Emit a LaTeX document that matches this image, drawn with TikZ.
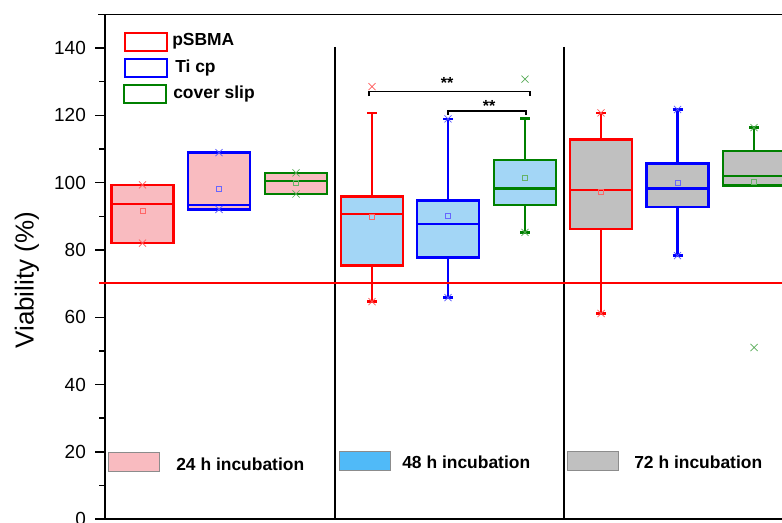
\documentclass[tikz,border=0pt]{standalone}
\usepackage{fontspec}
\setmainfont{Liberation Sans}
\usetikzlibrary{positioning}

\definecolor{pinkfill}{RGB}{249,187,192}
\definecolor{bluefill}{RGB}{163,214,246}
\definecolor{bluekey}{RGB}{80,186,248}
\definecolor{grayfill}{RGB}{192,192,192}
\definecolor{darkgreen}{RGB}{0,128,0}

\tikzset{
  boxline/.style={line width=1.8pt},
  limitline/.style={draw=red, line width=1.8pt},
  ticklabel/.style={font=\fontsize{13.5}{16}\selectfont, anchor=east, inner sep=0pt},
  legendtext/.style={font=\bfseries\fontsize{12.4}{14}\selectfont, anchor=west, inner sep=0pt},
  samplekey/.style={draw, line width=1.6pt, minimum width=29.9pt, minimum height=12.8pt, inner sep=0pt},
  timekey/.style={draw=black!45, line width=0.4pt, minimum width=36.3pt, minimum height=13.5pt, inner sep=0pt},
  stars/.style={font=\bfseries\fontsize{11.4}{13}\selectfont, inner sep=0pt}
}

% center, colour, fill, low whisker, q1, median, q3, high whisker, mean
\newcommand{\drawbox}[9]{%
  \draw[#2, boxline] (#1,#4) -- (#1,#5) (#1,#7) -- (#1,#8);
  \draw[#2, boxline] (#1-5,#4) -- (#1+5,#4) (#1-5,#8) -- (#1+5,#8);
  \draw[#2, boxline, fill=#3] (#1-31,#5) rectangle (#1+31,#7);
  \draw[#2, boxline] (#1-31,#6) -- (#1+31,#6);
  \draw[#2!60, line width=0.5pt] (#1,#9) +(-1.8pt,-1.8pt) rectangle +(1.8pt,1.8pt);}

% x marker: x, value, colour
\newcommand{\outlier}[3]{%
  \draw[#3!65, line width=0.5pt] (#1,#2) +(-2.5pt,-2.5pt) -- +(2.5pt,2.5pt) +(-2.5pt,2.5pt) -- +(2.5pt,-2.5pt);}

\begin{document}
\begin{tikzpicture}[x=0.025cm, y=0.08413cm]
    \useasboundingbox (0,-0.892) rectangle (782,154.23);
    \clip (0,-0.892) rectangle (782,154.23);

    % Ejes
    \draw[line width=1.2pt] (105,150) -- (105,0) -- (782,0);
    \draw[line width=1pt] (98,150) -- (782,150);
    \foreach \v in {0,20,...,140}
      \draw[line width=1pt] (105,\v) -- (95,\v) node[ticklabel, xshift=-6pt] (tick\v) {\v};
    \foreach \v in {10,30,50,90,110,130}
      \draw[line width=1pt] (105,\v) -- (99,\v);
    \node[rotate=90, font=\fontsize{18.5}{21}\selectfont] (ylabel) at (27,71) {Viability (\%)};

    % Separadores
    \draw[line width=1.3pt] (335,140.3) -- (335,0);
    \draw[line width=1.3pt] (564,140.3) -- (564,0);

    % 24 h
    \drawbox{142.5}{red}{pinkfill}{82}{82}{93.6}{99.3}{99.3}{91.5}
    \drawbox{219}{blue}{pinkfill}{92}{92}{93.3}{108.9}{108.9}{98}
    \drawbox{296}{darkgreen}{pinkfill}{96.6}{96.6}{100.4}{102.9}{102.9}{99.8}
    \outlier{142.5}{99.3}{red} \outlier{142.5}{82}{red}
    \outlier{219}{108.9}{blue} \outlier{219}{92}{blue}
    \outlier{296}{102.9}{darkgreen} \outlier{296}{96.6}{darkgreen}

    % 48 h
    \drawbox{372}{red}{bluefill}{64.6}{75.3}{90.6}{95.8}{120.7}{89.8}
    \drawbox{448}{blue}{bluefill}{65.8}{77.7}{87.7}{94.7}{118.9}{90.2}
    \drawbox{525}{darkgreen}{bluefill}{85.2}{93.3}{98.2}{106.7}{119.1}{101.5}
    \outlier{372}{128.5}{red} \outlier{372}{64.6}{red}
    \outlier{448}{118.9}{blue} \outlier{448}{65.8}{blue}
    \outlier{525}{130.7}{darkgreen} \outlier{525}{85.2}{darkgreen}

    % 72 h
    \drawbox{601}{red}{grayfill}{61.1}{86.2}{97.8}{112.8}{120.7}{97.1}
    \drawbox{677.5}{blue}{grayfill}{78.3}{92.8}{98.2}{105.7}{121.7}{99.9}
    \drawbox{754}{darkgreen}{grayfill}{99.1}{99.1}{101.9}{109.4}{116.3}{100.2}
    \outlier{601}{120.7}{red} \outlier{601}{61.1}{red}
    \outlier{677.5}{121.7}{blue} \outlier{677.5}{78.3}{blue}
    \outlier{754}{116.3}{darkgreen} \outlier{754}{51}{darkgreen}

    % Umbral 70 %
    \draw[limitline] (99,70.1) -- (782,70.1);

    % Significancia
    \draw[line width=1.1pt] (369,125.7) -- (369,127) -- (530,127) -- (530,125.7);
    \draw[line width=1.1pt] (448,120.1) -- (448,121.2) -- (526,121.2) -- (526,120.1);
    \node[stars] (sig1) at (447,129.7) {**};
    \node[stars] (sig2) at (489,122.6) {**};

    % Leyenda de muestras
    \node[samplekey, red] (keyp) at (146,141.85) {};
    \node[samplekey, blue] (keyt) at (146,134) {};
    \node[samplekey, darkgreen] (keyc) at (145,126.2) {};
    \node[legendtext] (labp) at (172,141.85) {pSBMA};
    \node[legendtext] (labt) at (175,134) {Ti cp};
    \node[legendtext] (labc) at (173,126.2) {cover slip};

    % Leyenda de tiempos
    \node[timekey, fill=pinkfill] (key24) at (134.1,16.95) {};
    \node[timekey, fill=bluekey] (key48) at (364.5,17.4) {};
    \node[timekey, fill=grayfill] (key72) at (593.1,17.4) {};
    \node[legendtext] (lab24) at (176,16.3) {24 h incubation};
    \node[legendtext] (lab48) at (402,16.9) {48 h incubation};
    \node[legendtext] (lab72) at (634,16.9) {72 h incubation};
\end{tikzpicture}
\end{document}
